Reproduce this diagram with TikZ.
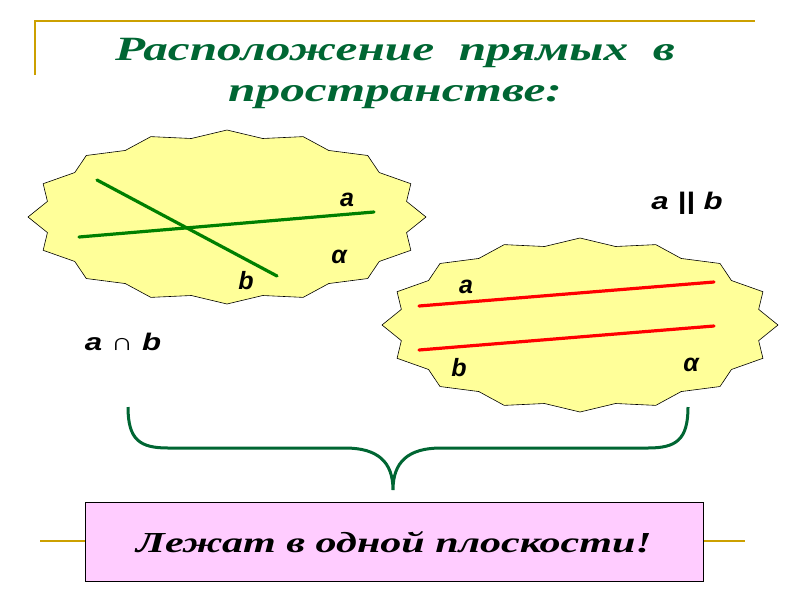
\documentclass[tikz,border=0pt]{standalone}
\usepackage{fontspec}
\setmainfont{Liberation Serif}
\newfontfamily\wideserif[FakeStretch=1.45]{Liberation Serif}
\newfontfamily\widesans[FakeStretch=1.3]{Liberation Sans}
\newfontfamily\lblfont{Liberation Sans}
\usepackage{tikz}
\usetikzlibrary{calc, positioning, arrows.meta}
\usepackage{tkz-euclide}

\definecolor{titlegreen}{RGB}{0,102,51}
\definecolor{linegreen}{RGB}{0,128,0}
\definecolor{goldline}{RGB}{204,160,0}
\definecolor{blobyellow}{RGB}{255,255,153}
\definecolor{boxpink}{RGB}{255,204,255}

\newcommand{\wavyplane}[4]{%
  \draw[plane] plot[samples=33, domain=0:360, variable=\t]
    ({#1+#3*(0.96+0.04*cos(16*\t))*cos(\t)}, {#2+#4*(0.96+0.04*cos(16*\t))*sin(\t)}) -- cycle;}

\begin{document}
\begin{tikzpicture}[>=latex, x=1pt, y=-1pt,
  plane/.style={draw=black, line width=0.6pt, fill=blobyellow, line join=miter},
  frame/.style={goldline, line width=2pt},
  gline/.style={linegreen, line width=3.2pt},
  rline/.style={red, line width=3.2pt},
  brace/.style={titlegreen, line width=3pt},
  ttl/.style={titlegreen, font=\wideserif\fontsize{34}{40}\selectfont\bfseries\itshape},
  lbl/.style={font=\lblfont\fontsize{25}{28}\selectfont\bfseries\itshape},
  sign/.style={font=\widesans\fontsize{24}{28}\selectfont\bfseries\itshape},
  result/.style={draw=black, line width=0.8pt, fill=boxpink, minimum width=618pt,
    minimum height=79pt, font=\wideserif\fontsize{29}{34}\selectfont\bfseries\itshape}]
\useasboundingbox (0,0) rectangle (800,600);

\tkzDefPoints{35/75/F1, 35/21/F2, 755/21/F3, 40/541/G1, 745/541/G2}
\draw[frame] (F1) -- (F2) -- (F3);
\draw[frame] (G1) -- (G2);

\node[ttl] (title1) at (395,53) {Расположение\ \ прямых\ \ в};
\node[ttl] (title2) at (395,97) {пространстве:};

\wavyplane{227}{217}{199}{87}
\wavyplane{580}{325}{198}{87}

\tkzDefPoints{79/237/A1, 374/212/A2, 97/180/B1, 277/276/B2}
\tkzDrawSegments[gline](A1,A2 B1,B2)
\node[lbl] (la1) at (347,200) {a};
\node[lbl] (lb1) at (246,281) {b};
\node[lbl] (al1) at (339,257) {α};
\node[sign] (cap) at (123,342) {a ∩ b};

\tkzDefPoints{419/306/C1, 714/282/C2, 419/350/D1, 714/326/D2}
\tkzDrawSegments[rline](C1,C2 D1,D2)
\node[lbl] (la2) at (466,287) {a};
\node[lbl] (lb2) at (459,368) {b};
\node[lbl] (al2) at (691,365) {α};
\node[sign] (par) at (687,203) {a || b};

\tkzDefPoints{128/407/L0, 168/448/L1, 345/448/L2, 393/490/T, 441/448/R2, 648/448/R1, 688/407/R0}
\draw[brace] (L0) .. controls (128,440) and (140,448) .. (L1) -- (L2)
  .. controls (378,448) and (393,462) .. (T)
  .. controls (393,462) and (408,448) .. (R2) -- (R1)
  .. controls (676,448) and (688,440) .. (R0);

\node[result] (res) at (394,542) {Лежат в одной плоскости!};
\end{tikzpicture}
\end{document}
